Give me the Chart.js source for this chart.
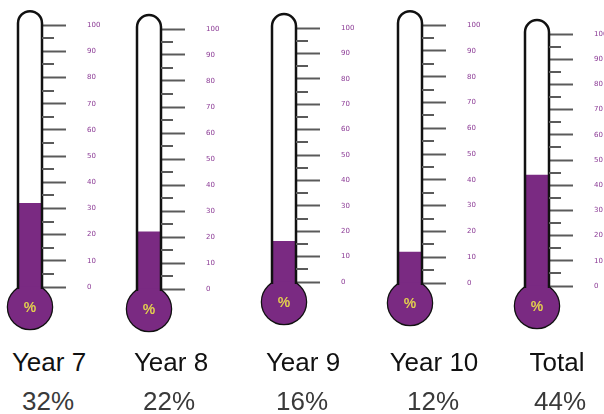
<!DOCTYPE html>
<html>
<head>
<meta charset="utf-8">
<script src="https://cdn.jsdelivr.net/npm/chart.js@4"></script>
<style>
  html, body { margin: 0; padding: 0; background: #fff; }
  body { width: 604px; height: 414px; position: relative; overflow: hidden; }
  canvas { position: absolute; top: 0; }
  .lbl {
    position: absolute; width: 140px; text-align: center;
    font-family: "Liberation Sans", Arial, sans-serif; white-space: nowrap;
  }
  .cat { font-size: 26px; line-height: 26px; color: #111; }
  .pct { font-size: 26px; line-height: 26px; color: #3a3a3a; }
</style>
</head>
<body>
<script>
// Data
const categories = ['Year 7', 'Year 8', 'Year 9', 'Year 10', 'Total'];
const values = [32, 22, 16, 12, 44];
const majorTicks = [0, 10, 20, 30, 40, 50, 60, 70, 80, 90, 100];
const minorTicks = [5, 15, 25, 35, 45, 55, 65, 75, 85, 95];

// Layout of each thermometer (left edge of tube, pixel of 100 and of 0)
const tubeLeft = [17, 136, 271, 397, 524];
const top100 = [24, 29, 28, 24, 34];
const base0 = [287, 289, 282, 283, 286];
const catCenter = [49, 171, 303, 434, 557];
const pctCenter = [48, 169, 302, 433, 560];

const PURPLE = '#7a2a82';
const CANVAS_W = 130, CANVAS_H = 345;
const PAD_LEFT = 35, PAD_RIGHT = 4, TUBE_W = 24;

// Draws bulb, tube outline and minor ticks around the bar
const thermoPlugin = {
  id: 'thermo',
  beforeDatasetsDraw(chart) {
    const { ctx, chartArea } = chart;
    const cx = (chartArea.left + chartArea.right) / 2;
    const cy = chartArea.bottom + 20;
    ctx.save();
    ctx.beginPath();
    ctx.arc(cx, cy, 22, 0, Math.PI * 2);
    ctx.lineWidth = 2.5;
    ctx.strokeStyle = '#111';
    ctx.stroke();
    ctx.fillStyle = PURPLE;
    ctx.fill();
    ctx.fillRect(chartArea.left, chartArea.bottom - 4, chartArea.right - chartArea.left, 20);
    ctx.fillStyle = '#e2cf4e';
    ctx.font = 'bold 14px "Liberation Sans", Arial, sans-serif';
    ctx.textAlign = 'center';
    ctx.textBaseline = 'middle';
    ctx.fillText('%', cx, cy + 1);
    ctx.restore();
  },
  afterDatasetsDraw(chart) {
    const { ctx, chartArea, scales } = chart;
    const l = chartArea.left, r = chartArea.right;
    const cx = (l + r) / 2;
    const capY = chartArea.top - 2;
    ctx.save();
    ctx.beginPath();
    ctx.moveTo(l, chartArea.bottom + 2);
    ctx.lineTo(l, capY);
    ctx.arc(cx, capY, (r - l) / 2, Math.PI, 0);
    ctx.lineTo(r, chartArea.bottom + 2);
    ctx.lineWidth = 2.5;
    ctx.strokeStyle = '#111';
    ctx.stroke();
    // minor ticks
    ctx.beginPath();
    minorTicks.forEach(v => {
      const y = Math.round(scales.y.getPixelForValue(v));
      ctx.moveTo(r, y);
      ctx.lineTo(r + 12, y);
    });
    ctx.lineWidth = 2;
    ctx.strokeStyle = '#5a5a5a';
    ctx.stroke();
    ctx.restore();
  }
};

categories.forEach((cat, i) => {
  const canvas = document.createElement('canvas');
  canvas.width = CANVAS_W;
  canvas.height = CANVAS_H;
  canvas.style.left = (tubeLeft[i] + 1 - PAD_LEFT) + 'px';
  document.body.appendChild(canvas);

  new Chart(canvas, {
    type: 'bar',
    data: {
      labels: [cat],
      datasets: [{
        data: [values[i]],
        backgroundColor: PURPLE,
        borderWidth: 0,
        barPercentage: 1,
        categoryPercentage: 1
      }]
    },
    options: {
      responsive: false,
      animation: false,
      layout: {
        padding: { left: PAD_LEFT, right: PAD_RIGHT, top: top100[i], bottom: CANVAS_H - base0[i] }
      },
      plugins: { legend: { display: false }, tooltip: { enabled: false } },
      scales: {
        x: { display: false },
        y: {
          position: 'right',
          min: 0,
          max: 100,
          afterBuildTicks: scale => { scale.ticks = majorTicks.map(v => ({ value: v })); },
          afterFit: scale => { scale.width = CANVAS_W - PAD_LEFT - PAD_RIGHT - TUBE_W; },
          border: { display: false },
          grid: {
            drawOnChartArea: false,
            tickLength: 24,
            tickColor: '#5a5a5a',
            tickWidth: 2
          },
          ticks: {
            padding: 21,
            color: '#8b3a95',
            font: { family: '"DejaVu Sans", sans-serif', size: 7 }
          }
        }
      }
    },
    plugins: [thermoPlugin]
  });

  const c = document.createElement('div');
  c.className = 'lbl cat';
  c.style.left = (catCenter[i] - 70) + 'px';
  c.style.top = '349px';
  c.textContent = cat;
  document.body.appendChild(c);

  const p = document.createElement('div');
  p.className = 'lbl pct';
  p.style.left = (pctCenter[i] - 70) + 'px';
  p.style.top = '388px';
  p.textContent = values[i] + '%';
  document.body.appendChild(p);
});
</script>
</body>
</html>
